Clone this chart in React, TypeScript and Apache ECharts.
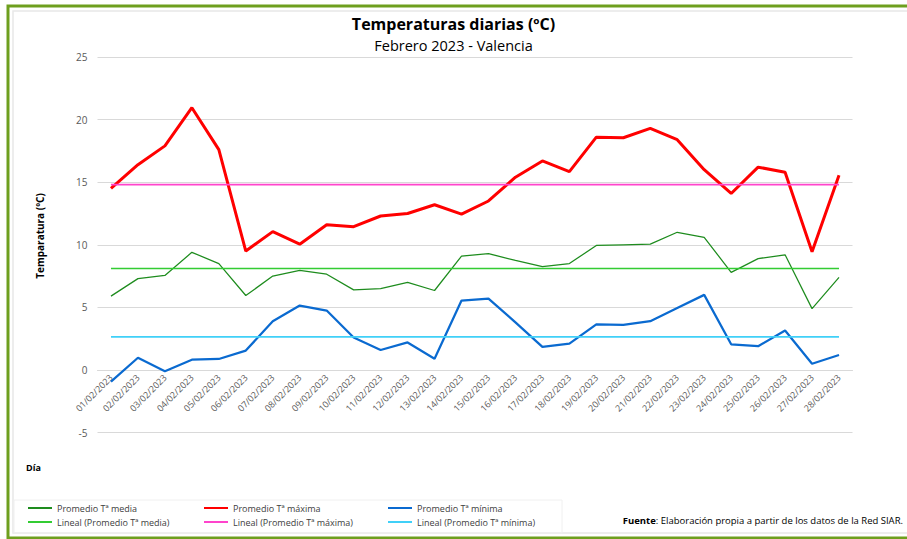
import React, { useEffect, useRef } from "react";
import * as echarts from "echarts";

const categories = [
  "01/02/2023", "02/02/2023", "03/02/2023", "04/02/2023", "05/02/2023", "06/02/2023", "07/02/2023",
  "08/02/2023", "09/02/2023", "10/02/2023", "11/02/2023", "12/02/2023", "13/02/2023", "14/02/2023",
  "15/02/2023", "16/02/2023", "17/02/2023", "18/02/2023", "19/02/2023", "20/02/2023", "21/02/2023",
  "22/02/2023", "23/02/2023", "24/02/2023", "25/02/2023", "26/02/2023", "27/02/2023", "28/02/2023",
];

const tMedia = [
  5.9, 7.3, 7.55, 9.4, 8.5, 5.95, 7.5, 7.95, 7.65, 6.4, 6.5, 7.0, 6.35, 9.1,
  9.3, 8.75, 8.25, 8.5, 9.95, 10.0, 10.05, 11.0, 10.6, 7.8, 8.9, 9.2, 4.9, 7.4,
];
const tMaxima = [
  14.5, 16.4, 17.9, 20.95, 17.6, 9.5, 11.05, 10.05, 11.6, 11.45, 12.3, 12.5, 13.2, 12.45,
  13.5, 15.4, 16.7, 15.85, 18.6, 18.55, 19.3, 18.4, 16.0, 14.1, 16.2, 15.8, 9.45, 15.55,
];
const tMinima = [
  -0.93, 0.98, -0.1, 0.82, 0.88, 1.55, 3.9, 5.15, 4.75, 2.6, 1.6, 2.2, 0.9, 5.55,
  5.7, 3.8, 1.85, 2.1, 3.65, 3.6, 3.9, 4.95, 6.0, 2.05, 1.9, 3.15, 0.5, 1.2,
];
// Linear trend lines: value at first and last day
const trendMedia = [8.1, 8.1];
const trendMaxima = [14.8, 14.8];
const trendMinima = [2.65, 2.65];

const yTicks = { min: -5, max: 25, interval: 5 };

const FONT = "'Open Sans', 'Noto Sans', sans-serif";

const names = {
  media: "Promedio Tª media",
  maxima: "Promedio Tª máxima",
  minima: "Promedio Tª mínima",
  lMedia: "Lineal (Promedio Tª media)",
  lMaxima: "Lineal (Promedio Tª máxima)",
  lMinima: "Lineal (Promedio Tª mínima)",
};

const colors = {
  media: "#1e8c1e",
  maxima: "#ff0000",
  minima: "#0a6ad0",
  lMedia: "#33cc33",
  lMaxima: "#ff44cc",
  lMinima: "#40d0f8",
};

function trendData(v: number[]) {
  return [
    [categories[0], v[0]],
    [categories[categories.length - 1], v[1]],
  ];
}

function legendCol(left: number, items: string[]) {
  return {
    orient: "vertical",
    left,
    top: 502,
    padding: 0,
    itemWidth: 24,
    itemHeight: 2,
    itemGap: 2,
    icon: "rect",
    selectedMode: false,
    textStyle: { fontFamily: FONT, fontSize: 9, color: "#404040", lineHeight: 12 },
    data: items,
  };
}

export default function App() {
  const ref = useRef<HTMLDivElement>(null);
  useEffect(() => {
    if (!ref.current) return;
    const chart = echarts.init(ref.current, null, { renderer: "svg" });
    const lineSeries = (name: string, data: any[], color: string, width: number, z: number) => ({
      name,
      type: "line",
      data,
      symbol: "none",
      showSymbol: false,
      silent: true,
      z,
      itemStyle: { color },
      lineStyle: { color, width },
    });
    const gridTop = 57;
    const gridBottomPx = 432.6;
    const zeroPx = gridBottomPx - ((0 - yTicks.min) / (yTicks.max - yTicks.min)) * (gridBottomPx - gridTop);
    chart.setOption({
      animation: false,
      backgroundColor: "#ffffff",
      title: [
        {
          text: "Temperaturas diarias (ºC)",
          left: "center",
          top: 15,
          padding: 0,
          textStyle: { fontFamily: FONT, fontSize: 16, fontWeight: "bold", color: "#000", lineHeight: 18 },
        },
        {
          text: "Febrero 2023 - Valencia",
          left: "center",
          top: 37,
          padding: 0,
          textStyle: { fontFamily: FONT, fontSize: 14.5, fontWeight: "normal", color: "#000", lineHeight: 16 },
        },
      ],
      grid: { left: 97.5, right: 54.5, top: gridTop, bottom: 539 - gridBottomPx, containLabel: false },
      xAxis: {
        type: "category",
        data: categories,
        boundaryGap: true,
        offset: -(gridBottomPx - zeroPx),
        axisLine: { show: true, onZero: false, lineStyle: { color: "#d9d9d9", width: 1 } },
        axisTick: { show: false },
        axisLabel: {
          rotate: 45,
          interval: 0,
          margin: 6,
          fontFamily: FONT,
          fontSize: 9,
          color: "#595959",
        },
      },
      yAxis: {
        type: "value",
        min: yTicks.min,
        max: yTicks.max,
        interval: yTicks.interval,
        axisLine: { show: false },
        axisTick: { show: false },
        splitLine: { lineStyle: { color: "#d9d9d9", width: 1 } },
        axisLabel: { fontFamily: FONT, fontSize: 10, color: "#595959", margin: 10 },
      },
      legend: [
        legendCol(28, [names.media, names.lMedia]),
        legendCol(204, [names.maxima, names.lMaxima]),
        legendCol(388, [names.minima, names.lMinima]),
      ],
      series: [
        lineSeries(names.media, tMedia, colors.media, 1.25, 2),
        lineSeries(names.maxima, tMaxima, colors.maxima, 3, 3),
        lineSeries(names.minima, tMinima, colors.minima, 2.25, 3),
        lineSeries(names.lMedia, trendData(trendMedia), colors.lMedia, 1.5, 4),
        lineSeries(names.lMaxima, trendData(trendMaxima), colors.lMaxima, 1.75, 4),
        lineSeries(names.lMinima, trendData(trendMinima), colors.lMinima, 1.75, 4),
      ],
      graphic: [
        {
          type: "rect",
          silent: true,
          z: -10,
          shape: { x: 8, y: 6, width: 920, height: 532 },
          style: { fill: "none", stroke: "#6e9f1e", lineWidth: 3 },
        },
        {
          type: "rect",
          silent: true,
          z: -10,
          shape: { x: 13, y: 11, width: 920, height: 522 },
          style: { fill: "none", stroke: "#e8e8e8", lineWidth: 1.5 },
        },
        {
          type: "rect",
          silent: true,
          z: -10,
          shape: { x: 14, y: 500, width: 548, height: 33 },
          style: { fill: "none", stroke: "#f0f0f0", lineWidth: 1 },
        },
        {
          type: "text",
          silent: true,
          x: 40,
          y: 236,
          rotation: Math.PI / 2,
          style: {
            text: "Temparatura (ºC)",
            fontFamily: FONT,
            fontSize: 10,
            fontWeight: "bold",
            fill: "#000",
            align: "center",
            verticalAlign: "middle",
          },
        },
        {
          type: "text",
          silent: true,
          x: 26,
          y: 467,
          style: {
            text: "Día",
            fontFamily: FONT,
            fontSize: 9,
            fontWeight: "bold",
            fill: "#000",
            align: "left",
            verticalAlign: "middle",
          },
        },
        {
          type: "text",
          silent: true,
          x: 903,
          y: 520,
          style: {
            text: "{b|Fuente}: Elaboración propia a partir de los datos de la Red SIAR.",
            rich: { b: { fontWeight: "bold", fontFamily: FONT, fontSize: 9.5, fill: "#000" } },
            fontFamily: FONT,
            fontSize: 9.5,
            fill: "#000",
            align: "right",
            verticalAlign: "middle",
          },
        },
      ],
    });
    return () => chart.dispose();
  }, []);
  return (
    <div
      ref={ref}
      style={{ position: "fixed", left: 0, top: 0, width: 907, height: 539 }}
    />
  );
}
